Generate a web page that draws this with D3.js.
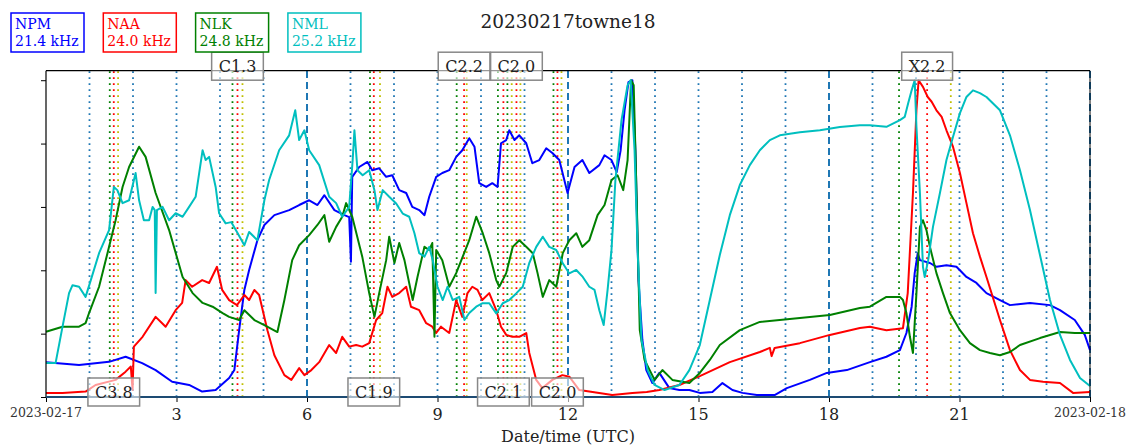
<!DOCTYPE html>
<html>
<head>
<meta charset="utf-8">
<script src="https://cdn.jsdelivr.net/npm/d3@7"></script>
<style>
  body { margin: 0; background: #fff; }
  svg { display: block; font-family: "DejaVu Serif", serif; }
</style>
</head>
<body>
<svg id="chart" width="1127" height="446"></svg>
<script>
// chart title and stations
var chartTitle = "20230217towne18";
var stations = ["NPM", "NAA", "NLK", "NML"];
var stationFreq = ["21.4 kHz", "24.0 kHz", "24.8 kHz", "25.2 kHz"];

// normalised amplitude, [hour UTC, value]
var npm = [[0,0.110],[0.76,0.101],[1.45,0.111],[1.83,0.127],[2.21,0.107],[2.52,0.085],[2.90,0.048],[3.29,0.038],[3.59,0.017],[3.90,0.022],[4.21,0.060],[4.33,0.085],[4.44,0.211],[4.56,0.338],[4.67,0.401],[4.86,0.495],[5.02,0.543],[5.25,0.574],[5.59,0.590],[5.82,0.606],[6.05,0.621],[6.24,0.606],[6.40,0.637],[6.63,0.590],[6.86,0.574],[6.97,0.568],[7.01,0.427],[7.04,0.695],[7.20,0.726],[7.39,0.742],[7.50,0.716],[7.66,0.722],[7.82,0.695],[7.96,0.700],[8.12,0.653],[8.28,0.644],[8.42,0.600],[8.58,0.590],[8.70,0.574],[8.81,0.632],[8.97,0.695],[9.11,0.707],[9.27,0.716],[9.43,0.758],[9.57,0.779],[9.73,0.817],[9.85,0.790],[9.96,0.675],[10.12,0.663],[10.26,0.675],[10.38,0.663],[10.46,0.801],[10.58,0.811],[10.65,0.842],[10.77,0.811],[10.88,0.826],[11.04,0.801],[11.18,0.738],[11.34,0.748],[11.50,0.785],[11.64,0.770],[11.80,0.748],[11.99,0.644],[12.15,0.726],[12.33,0.748],[12.49,0.707],[12.72,0.732],[12.84,0.763],[13.00,0.748],[13.12,0.710],[13.21,0.779],[13.30,0.905],[13.39,0.994],[13.48,1.0],[13.55,0.779],[13.62,0.369],[13.71,0.180],[13.80,0.085],[13.94,0.044],[14.10,0.076],[14.33,0.028],[14.56,0.022],[14.79,0.022],[15.03,0.013],[15.32,0.016],[15.55,0.044],[15.78,0.022],[16.01,0.013],[16.34,0.006],[16.75,0.006],[17.03,0.028],[17.56,0.054],[17.95,0.076],[18.41,0.085],[18.94,0.110],[19.32,0.127],[19.63,0.148],[19.78,0.202],[19.90,0.285],[19.97,0.391],[20.04,0.454],[20.09,0.432],[20.32,0.423],[20.47,0.411],[20.70,0.416],[20.93,0.411],[21.16,0.379],[21.39,0.360],[21.62,0.328],[21.93,0.306],[22.16,0.290],[22.62,0.297],[23.08,0.290],[23.31,0.274],[23.65,0.243],[23.88,0.196],[24,0.148]];

var naa = [[0,0.013],[0.38,0.013],[0.91,0.017],[1.14,0.038],[1.60,0.054],[1.83,0.080],[1.95,0.096],[1.99,0.022],[2.02,0.159],[2.22,0.190],[2.52,0.253],[2.67,0.233],[2.75,0.222],[2.98,0.274],[3.13,0.297],[3.21,0.369],[3.36,0.348],[3.59,0.369],[3.75,0.360],[3.93,0.411],[4.05,0.338],[4.21,0.306],[4.39,0.290],[4.56,0.322],[4.67,0.306],[4.79,0.338],[4.90,0.322],[5.09,0.211],[5.25,0.132],[5.48,0.069],[5.64,0.054],[5.82,0.091],[5.94,0.069],[6.10,0.085],[6.28,0.110],[6.51,0.164],[6.67,0.139],[6.81,0.190],[6.97,0.159],[7.13,0.164],[7.27,0.159],[7.43,0.170],[7.59,0.243],[7.73,0.265],[7.85,0.348],[7.96,0.316],[8.12,0.328],[8.28,0.348],[8.39,0.285],[8.58,0.274],[8.74,0.233],[8.88,0.222],[8.97,0.202],[9.08,0.222],[9.27,0.202],[9.43,0.306],[9.57,0.253],[9.69,0.328],[9.80,0.348],[9.92,0.338],[10.03,0.306],[10.19,0.328],[10.35,0.274],[10.46,0.222],[10.58,0.196],[10.72,0.190],[10.88,0.190],[11.04,0.202],[11.11,0.139],[11.27,0.054],[11.41,0.028],[11.64,0.054],[11.87,0.069],[12.03,0.064],[12.26,0.022],[13.02,0.006],[13.48,0.013],[13.81,0.016],[14.10,0.022],[14.56,0.038],[15.03,0.066],[15.72,0.110],[16.41,0.142],[16.64,0.155],[16.68,0.129],[16.75,0.155],[17.33,0.170],[18.02,0.196],[18.71,0.218],[18.94,0.222],[19.32,0.211],[19.70,0.217],[19.81,0.328],[19.93,0.644],[20.01,0.905],[20.06,1.0],[20.16,0.979],[20.27,0.947],[20.36,0.932],[20.47,0.905],[20.59,0.884],[20.70,0.842],[20.85,0.790],[21.01,0.707],[21.16,0.612],[21.31,0.517],[21.47,0.443],[21.62,0.379],[21.93,0.243],[22.16,0.148],[22.39,0.085],[22.62,0.054],[22.92,0.048],[23.31,0.044],[23.61,0.013],[24,0.016]];

var nlk = [[0,0.206],[0.38,0.222],[0.76,0.222],[0.91,0.233],[0.99,0.265],[1.22,0.348],[1.45,0.474],[1.60,0.558],[1.76,0.663],[1.91,0.726],[2.14,0.790],[2.29,0.758],[2.52,0.644],[2.83,0.527],[3.14,0.379],[3.37,0.328],[3.60,0.297],[3.83,0.285],[4.06,0.265],[4.21,0.253],[4.44,0.243],[4.56,0.274],[4.79,0.243],[5.02,0.227],[5.32,0.205],[5.48,0.306],[5.66,0.432],[5.82,0.479],[6.05,0.511],[6.24,0.543],[6.40,0.574],[6.51,0.490],[6.67,0.537],[6.81,0.569],[6.90,0.612],[7.04,0.569],[7.27,0.443],[7.43,0.328],[7.55,0.253],[7.66,0.328],[7.82,0.432],[7.89,0.506],[8.01,0.423],[8.12,0.486],[8.24,0.432],[8.43,0.306],[8.54,0.379],[8.70,0.474],[8.81,0.464],[8.88,0.486],[8.93,0.190],[8.97,0.464],[9.11,0.432],[9.27,0.348],[9.43,0.391],[9.58,0.443],[9.73,0.495],[9.89,0.569],[10.04,0.517],[10.19,0.454],[10.35,0.369],[10.42,0.348],[10.58,0.391],[10.73,0.474],[10.88,0.495],[11.04,0.474],[11.19,0.454],[11.30,0.391],[11.42,0.316],[11.57,0.369],[11.73,0.348],[11.88,0.454],[12.03,0.495],[12.19,0.517],[12.33,0.474],[12.49,0.495],[12.68,0.574],[12.84,0.606],[13.00,0.685],[13.14,0.700],[13.27,0.653],[13.37,0.748],[13.45,1.0],[13.51,0.984],[13.58,0.621],[13.65,0.211],[13.76,0.117],[13.99,0.054],[14.17,0.085],[14.40,0.054],[14.79,0.044],[15.03,0.076],[15.26,0.117],[15.49,0.164],[15.95,0.211],[16.41,0.237],[17.33,0.249],[18.02,0.259],[18.71,0.281],[18.94,0.285],[19.32,0.316],[19.63,0.316],[19.70,0.306],[19.78,0.265],[19.86,0.190],[19.93,0.139],[20.01,0.328],[20.09,0.537],[20.16,0.558],[20.24,0.527],[20.32,0.474],[20.47,0.391],[20.62,0.328],[20.78,0.265],[21.01,0.211],[21.24,0.170],[21.47,0.148],[21.70,0.139],[21.93,0.132],[22.16,0.142],[22.39,0.164],[22.85,0.186],[23.31,0.205],[23.65,0.202],[24,0.202]];

var nml = [[0,0.107],[0.22,0.107],[0.38,0.222],[0.53,0.328],[0.61,0.353],[0.76,0.348],[0.91,0.316],[1.03,0.369],[1.22,0.454],[1.45,0.527],[1.56,0.663],[1.64,0.653],[1.76,0.612],[1.91,0.621],[2.06,0.707],[2.14,0.621],[2.25,0.558],[2.37,0.558],[2.45,0.600],[2.50,0.590],[2.52,0.328],[2.55,0.590],[2.68,0.600],[2.83,0.558],[2.98,0.580],[3.14,0.569],[3.29,0.600],[3.44,0.632],[3.60,0.779],[3.67,0.748],[3.75,0.758],[3.90,0.663],[3.98,0.580],[4.13,0.548],[4.26,0.552],[4.39,0.521],[4.56,0.479],[4.67,0.521],[4.86,0.495],[5.02,0.621],[5.13,0.685],[5.36,0.779],[5.59,0.826],[5.73,0.905],[5.82,0.811],[5.94,0.842],[6.05,0.779],[6.28,0.732],[6.51,0.632],[6.67,0.612],[6.81,0.569],[6.97,0.600],[7.05,0.748],[7.09,0.842],[7.16,0.716],[7.28,0.700],[7.43,0.716],[7.55,0.653],[7.62,0.590],[7.74,0.653],[7.89,0.632],[8.05,0.611],[8.20,0.579],[8.35,0.569],[8.47,0.517],[8.58,0.454],[8.70,0.443],[8.81,0.474],[8.89,0.432],[9.00,0.348],[9.12,0.306],[9.23,0.348],[9.35,0.306],[9.50,0.316],[9.62,0.243],[9.73,0.265],[9.89,0.285],[10.04,0.296],[10.19,0.296],[10.35,0.264],[10.50,0.296],[10.65,0.306],[10.81,0.327],[10.96,0.348],[11.11,0.423],[11.27,0.474],[11.42,0.506],[11.57,0.474],[11.73,0.464],[11.88,0.422],[12.03,0.390],[12.19,0.401],[12.34,0.379],[12.49,0.348],[12.61,0.338],[12.72,0.274],[12.82,0.227],[12.91,0.338],[13.00,0.464],[13.09,0.685],[13.23,0.874],[13.37,0.984],[13.44,1.0],[13.53,0.779],[13.60,0.464],[13.69,0.180],[13.83,0.085],[13.99,0.038],[14.22,0.022],[14.56,0.038],[14.79,0.085],[15.03,0.164],[15.26,0.306],[15.49,0.448],[15.72,0.574],[15.95,0.669],[16.18,0.732],[16.41,0.779],[16.64,0.811],[16.87,0.826],[17.33,0.836],[17.79,0.842],[18.25,0.852],[18.71,0.858],[18.94,0.858],[19.32,0.853],[19.63,0.874],[19.74,0.884],[19.82,0.927],[19.90,0.968],[19.97,1.0],[20.01,0.853],[20.09,0.644],[20.16,0.411],[20.20,0.379],[20.28,0.432],[20.39,0.537],[20.55,0.644],[20.70,0.748],[20.85,0.821],[21.01,0.896],[21.16,0.947],[21.31,0.968],[21.47,0.959],[21.62,0.947],[21.93,0.905],[22.16,0.826],[22.39,0.716],[22.62,0.590],[22.85,0.448],[23.08,0.306],[23.31,0.196],[23.54,0.117],[23.77,0.060],[24,0.035]];

// GOES flares: class, start / peak / end (hours UTC)
var flareClass = ["C3.8", "C1.3", "C1.9", "C2.2", "C2.1", "C2.0", "C2.0", "X2.2"];
var flareStart = [1.466, 4.287, 7.448, 9.441, 10.389, 10.607, 11.666, 19.61];
var flarePeak  = [1.558, 4.402, 7.536, 9.611, 10.515, 10.815, 11.758, 20.256];
var flareEnd   = [1.657, 4.517, 7.678, 9.671, 10.706, 10.906, 11.850, 20.80];

var xTickHours = [0, 3, 6, 9, 12, 15, 18, 21, 24];
var yTickValues = [0, 0.2, 0.4, 0.6, 0.8, 1.0];

var series = [npm, naa, nlk, nml];
var colors = ["#0000ff", "#ff0000", "#008000", "#00bfbf"];

var plotLeft = 46, plotRight = 1090, plotTop = 70.7, plotBottom = 397;

var svg = d3.select("#chart");

var day0 = Date.UTC(2023, 1, 17);
function toDate(h) { return new Date(day0 + h * 3600e3); }

var x = d3.scaleUtc().domain([toDate(0), toDate(24)]).range([plotLeft, plotRight]);
var y = d3.scaleLinear().domain([0, 1.03]).range([plotBottom, plotTop]);

// hourly markers, dashed every 6 hours
var hours = d3.range(1, 25);
svg.append("g").selectAll("line")
	.data(hours)
	.enter().append("line")
	.attr("x1", d => x(toDate(d))).attr("x2", d => x(toDate(d)))
	.attr("y1", plotBottom).attr("y2", plotTop)
	.style("stroke", "#1f77b4")
	.style("stroke-width", d => d % 6 == 0 ? 2 : 1.8)
	.style("stroke-dasharray", d => d % 6 == 0 ? "7,4" : "1.8,4.2");

// flare start (green), peak (red), end (yellow)
var flareLines = [];
for (var i = 0; i < flareClass.length; i ++){
	flareLines.push({h: flareStart[i], c: "#008000"});
	flareLines.push({h: flarePeak[i], c: "#ff0000"});
	flareLines.push({h: flareEnd[i], c: "#bfbf00"});
}
svg.append("g").selectAll("line")
	.data(flareLines)
	.enter().append("line")
	.attr("x1", d => x(toDate(d.h))).attr("x2", d => x(toDate(d.h)))
	.attr("y1", plotBottom).attr("y2", plotTop)
	.style("stroke", d => d.c)
	.style("stroke-width", 1.8)
	.style("stroke-dasharray", "1.8,4.2");

// the four stations
var line = d3.line()
	.x(d => x(toDate(d[0])))
	.y(d => y(d[1]));

svg.append("g").selectAll("path")
	.data(series)
	.enter().append("path")
	.attr("d", line)
	.style("fill", "none")
	.style("stroke", (d, i) => colors[i])
	.style("stroke-width", 2)
	.style("stroke-linejoin", "round");

// axes
var xAxis = d3.axisBottom(x)
	.tickValues(xTickHours.map(toDate))
	.tickSize(5)
	.tickFormat(d => "");
svg.append("g")
	.attr("transform", "translate(0," + plotBottom + ")")
	.call(xAxis)
	.call(g => g.select(".domain").remove())
	.selectAll("line").style("stroke", "#000");

svg.append("g").selectAll("text")
	.data(xTickHours)
	.enter().append("text")
	.attr("x", d => x(toDate(d)))
	.attr("y", d => (d == 0 || d == 24) ? 417 : 419.5)
	.attr("text-anchor", "middle")
	.style("font-size", d => (d == 0 || d == 24) ? "12.5px" : "16px")
	.style("fill", d => (d == 0 || d == 24) ? "#333" : "#222")
	.text(d => d == 0 ? "2023-02-17" : d == 24 ? "2023-02-18" : d);

var yAxis = d3.axisLeft(y).tickValues(yTickValues).tickSize(5).tickFormat(d => "");
svg.append("g")
	.attr("transform", "translate(" + plotLeft + ",0)")
	.call(yAxis)
	.call(g => g.select(".domain").remove())
	.selectAll("line").style("stroke", "#000");

// frame
svg.append("line").attr("x1", plotLeft).attr("x2", plotRight).attr("y1", plotTop).attr("y2", plotTop)
	.style("stroke", "#000").style("stroke-width", 1.2);
svg.append("line").attr("x1", plotLeft).attr("x2", plotLeft).attr("y1", plotTop).attr("y2", plotBottom)
	.style("stroke", "#000").style("stroke-width", 1.2);
svg.append("line").attr("x1", plotRight).attr("x2", plotRight).attr("y1", plotTop).attr("y2", plotBottom)
	.style("stroke", "#000").style("stroke-width", 1);
svg.append("line").attr("x1", plotLeft).attr("x2", plotRight).attr("y1", plotBottom).attr("y2", plotBottom)
	.style("stroke", "#1d4b73").style("stroke-width", 2.2);

// flare class labels, alternating below / above
var labels = svg.append("g").selectAll("g")
	.data(flareClass)
	.enter().append("g")
	.attr("transform", (d, i) => "translate(" + x(toDate(flarePeak[i])) + "," + (i % 2 == 0 ? plotBottom - 5 : plotTop - 4.5) + ")");
labels.append("rect")
	.style("fill", "#fff").style("fill-opacity", 0.6)
	.style("stroke", "#888").style("stroke-width", 1.5);
var lblText = labels.append("text")
	.attr("text-anchor", "middle")
	.attr("y", 6)
	.style("font-size", "16px")
	.style("fill", "#222")
	.text(d => d);
lblText.each(function(d, i){
	var w = this.getComputedTextLength() + 14;
	d3.select(this.parentNode).select("rect")
		.attr("x", -w / 2).attr("y", -14).attr("width", w).attr("height", 28);
});

// station legend boxes
var legend = svg.append("g").selectAll("g")
	.data(stations)
	.enter().append("g")
	.attr("transform", (d, i) => "translate(" + (11 + i * 92.3) + ",13)");
legend.append("rect")
	.attr("width", 73).attr("height", 39)
	.style("fill", "#fff")
	.style("stroke", (d, i) => colors[i])
	.style("stroke-width", 1.5);
legend.append("text")
	.attr("x", 4).attr("y", 15.5)
	.style("font-size", "14px")
	.style("fill", (d, i) => colors[i])
	.text(d => d);
legend.append("text")
	.attr("x", 4).attr("y", 33)
	.style("font-size", "14px")
	.style("fill", (d, i) => colors[i])
	.text((d, i) => stationFreq[i]);

// title and axis label
svg.append("text")
	.attr("x", (plotLeft + plotRight) / 2).attr("y", 28)
	.attr("text-anchor", "middle")
	.style("font-size", "18.5px")
	.style("fill", "#222")
	.text(chartTitle);

svg.append("text")
	.attr("x", (plotLeft + plotRight) / 2).attr("y", 442)
	.attr("text-anchor", "middle")
	.style("font-size", "16px")
	.style("fill", "#222")
	.text("Date/time (UTC)");
</script>
</body>
</html>
